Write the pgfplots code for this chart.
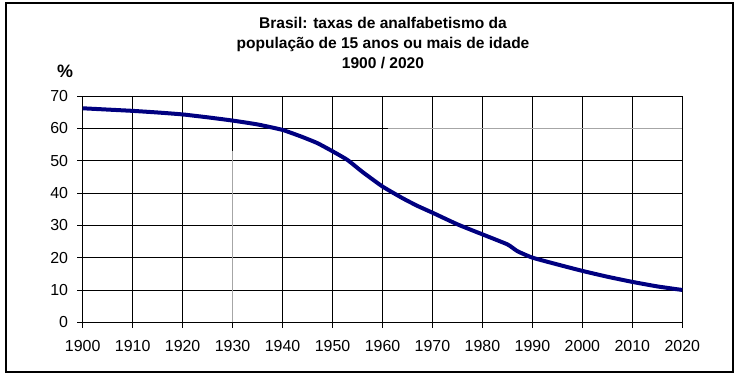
\documentclass[border=0pt]{standalone}
\usepackage{pgfplots}
\pgfplotsset{compat=1.18}
\usepackage{fontspec}
\setmainfont{Liberation Sans}
\definecolor{curve}{RGB}{0,0,128}
\begin{document}
\begin{tikzpicture}[x=1bp,y=1bp]
\useasboundingbox (0,0) rectangle (738,379);
\draw[line width=1.2bp] (6,7) rectangle (733,376);
\node[align=center, font=\bfseries\fontsize{15.6}{20}\selectfont] at (383,336) {Brasil: taxas de analfabetismo da\\popula\c{c}\~ao de 15 anos ou mais de idade\\1900 / 2020};
\node[font=\bfseries\fontsize{18}{18}\selectfont] at (65,308) {\%};
\begin{axis}[
  at={(82.7bp,56.7bp)}, anchor=south west,
  scale only axis, width=599.6bp, height=226.3bp,
  xmin=1900, xmax=2020, ymin=0, ymax=70,
  xtick={1900,1910,...,2020}, ytick={0,10,...,70},
  grid=major, grid style={black, line width=0.8bp},
  axis line style={black, line width=0.8bp},
  tick align=outside, tick pos=left, major tick length=5.5bp,
  tick style={black, line width=0.8bp},
  /pgf/number format/assume math mode=true,
  /pgf/number format/1000 sep={},
  ticklabel style={font=\fontsize{16}{16}\selectfont},
  xticklabel style={anchor=north, inner sep=0pt, yshift=-12.5bp},
  yticklabel style={anchor=east, inner sep=0pt, xshift=-9bp},
  clip=false,
]
\draw[gray!70, line width=0.8bp] (axis cs:1961,60) -- (axis cs:2020,60);
\draw[gray!70, line width=0.8bp] (axis cs:1930,0) -- (axis cs:1930,53);
\addplot[curve, line width=4bp, smooth, tension=0.3] coordinates {
(1900,66.2) (1905,65.8) (1910,65.4) (1915,64.9) (1920,64.3) (1925,63.4)
(1930,62.4) (1935,61.2) (1940,59.5) (1944,57.3) (1947,55.4) (1950,52.9)
(1953,50.2) (1956,46.5) (1960,42.0) (1964,38.4) (1967,36.0) (1970,33.9)
(1975,30.3) (1980,27.2) (1985,24.1) (1987,22.0) (1990,20.0) (1995,17.9)
(2000,15.9) (2005,14.1) (2010,12.5) (2015,11.1) (2020,10.0)
};
\end{axis}
\end{tikzpicture}
\end{document}
